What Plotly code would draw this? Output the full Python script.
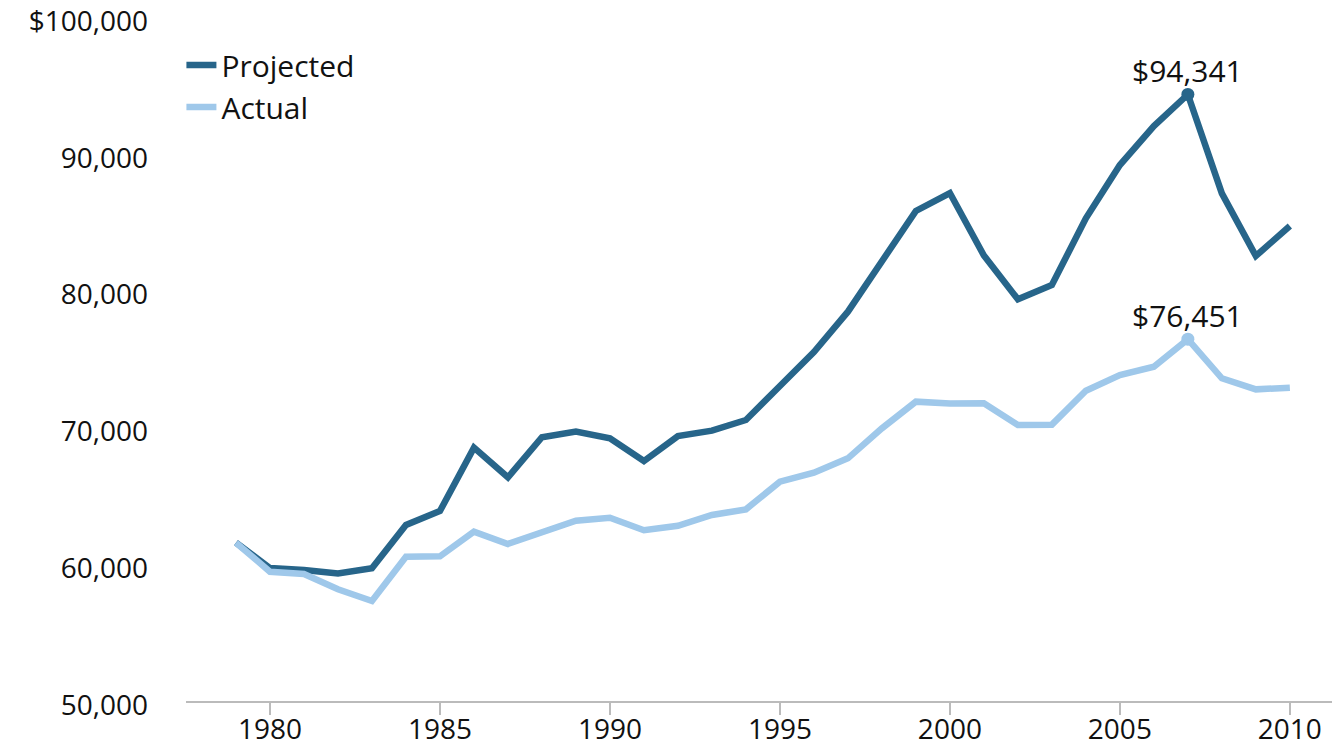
import plotly.graph_objects as go

# Median family income, projected vs actual (US dollars)
years = list(range(1979, 2011))

projected = [
    61570, 59720, 59580, 59330, 59700, 62870, 63890, 68520, 66350, 69280,
    69690, 69200, 67540, 69370, 69760, 70540, 73030, 75510, 78460, 82160,
    85820, 87130, 82570, 79360, 80410, 85280, 89180, 92030, 94341, 87110,
    82530, 84720,
]

actual = [
    61570, 59450, 59280, 58170, 57310, 60550, 60580, 62380, 61480, 62300,
    63180, 63390, 62480, 62810, 63600, 64010, 66030, 66690, 67740, 69930,
    71880, 71750, 71770, 70180, 70200, 72680, 73830, 74440, 76451, 73590,
    72780, 72900,
]

y_ticks = [50000, 60000, 70000, 80000, 90000, 100000]
y_tick_labels = ["50,000", "60,000", "70,000", "80,000", "90,000", "$100,000"]
x_ticks = [1980, 1985, 1990, 1995, 2000, 2005, 2010]

DARK = "#27658A"
LIGHT = "#9FC8EA"
FONT = "Open Sans"
TEXT = "#111111"

fig = go.Figure()

fig.add_trace(go.Scatter(
    x=years, y=projected, name="Projected", mode="lines",
    legendgroup="p", line=dict(color=DARK, width=6.5),
))
fig.add_trace(go.Scatter(
    x=years, y=actual, name="Actual", mode="lines",
    legendgroup="a", line=dict(color=LIGHT, width=6.5),
))

# Highlight the peak year of each series
peak_year = 2007
for series, color in ((projected, DARK), (actual, LIGHT)):
    v = series[years.index(peak_year)]
    fig.add_trace(go.Scatter(
        x=[peak_year], y=[v], mode="markers", showlegend=False,
        marker=dict(color=color, size=13), hoverinfo="skip",
    ))
    fig.add_annotation(
        x=peak_year, y=v, xref="x", yref="y",
        text=f"${v:,.0f}", showarrow=False,
        yanchor="middle", yshift=24,
        font=dict(family=FONT, size=30, color=TEXT),
    )

fig.update_layout(
    width=1332, height=746,
    margin=dict(l=186, r=0, t=17, b=45),
    paper_bgcolor="white", plot_bgcolor="white",
    font=dict(family=FONT, size=28, color=TEXT),
    showlegend=True,
    legend=dict(
        x=-0.004, y=0.968, xanchor="left", yanchor="top",
        bgcolor="rgba(0,0,0,0)",
        font=dict(family=FONT, size=30, color=TEXT),
        itemwidth=30, tracegroupgap=0,
    ),
    xaxis=dict(
        range=[1977.53, 2011.24], automargin=False,
        tickmode="array", tickvals=x_ticks,
        ticks="outside", ticklen=12, tickwidth=2, tickcolor="#BBBBBB",
        showline=True, linecolor="#BBBBBB", linewidth=2,
        showgrid=False, zeroline=False,
        ticklabelstandoff=-10, ticklabeloverflow="allow",
        tickfont=dict(family=FONT, size=28, color=TEXT),
    ),
    yaxis=dict(
        range=[50000, 100000], automargin=False,
        tickmode="array", tickvals=y_ticks, ticktext=y_tick_labels,
        ticks="", showline=False, showgrid=False, zeroline=False,
        ticklabelstandoff=37, ticklabelshift=4, ticklabeloverflow="allow",
        tickfont=dict(family=FONT, size=28, color=TEXT),
    ),
)

fig.write_html("out.html")
